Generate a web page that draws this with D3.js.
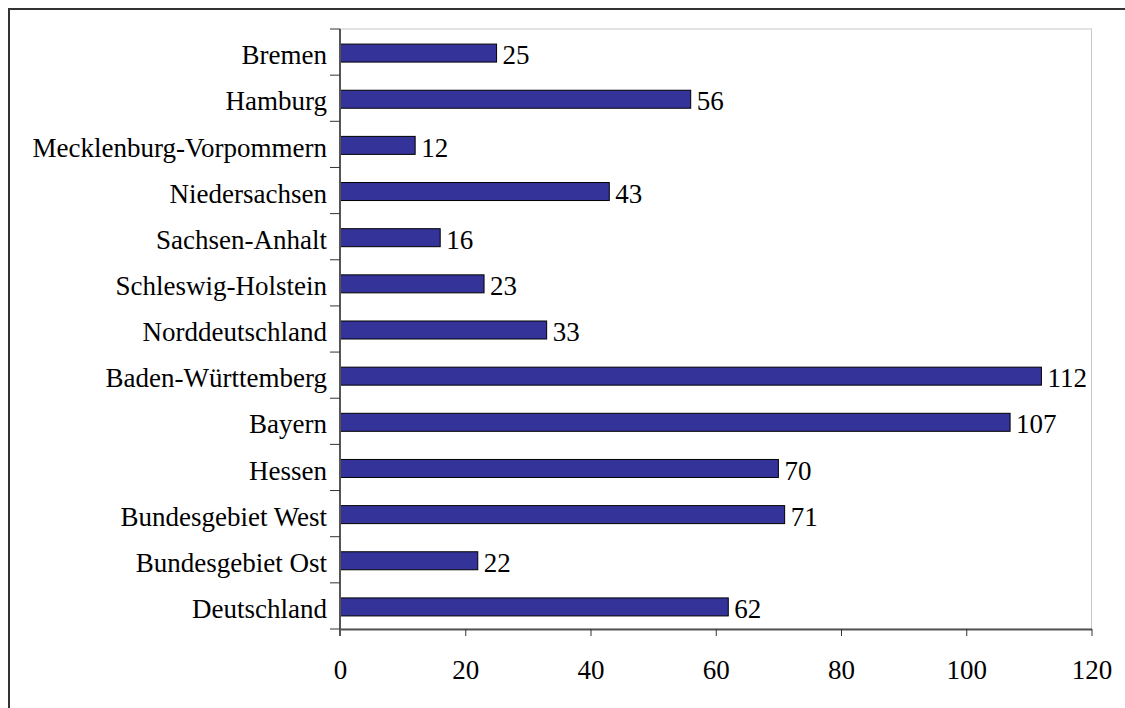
<!DOCTYPE html>
<html><head><meta charset="utf-8">
<script src="https://cdn.jsdelivr.net/npm/d3@7"></script>
<style>body{margin:0;background:#fff}svg{display:block}</style>
</head><body>
<svg id="chart" width="1125" height="708"></svg>
<script>
const categories = ["Bremen","Hamburg","Mecklenburg-Vorpommern","Niedersachsen","Sachsen-Anhalt","Schleswig-Holstein","Norddeutschland","Baden-Württemberg","Bayern","Hessen","Bundesgebiet West","Bundesgebiet Ost","Deutschland"];
const values = [25,56,12,43,16,23,33,112,107,70,71,22,62];
const xTicks = [0,20,40,60,80,100,120];

(function(){
const svg = d3.select("#chart");
const font = "'Liberation Serif','Times New Roman',serif";
const fs = 27;
svg.append("rect").attr("x",9).attr("y",9).attr("width",1130).attr("height",710)
  .attr("fill","none").attr("stroke","#333").attr("stroke-width",2);

const pl=340, pr=1091.5, pt=29, pb=629;
const x = d3.scaleLinear().domain([0,120]).range([pl,pr]);
const yb = d3.scaleBand().domain(categories).range([pt,pb]);

svg.append("rect").attr("x",pl).attr("y",pt).attr("width",pr-pl).attr("height",pb-pt)
  .attr("fill","none").attr("stroke","#c8c8c8").attr("stroke-width",1);

svg.selectAll("rect.bar").data(values).join("rect").attr("class","bar")
  .attr("x",x(0)).attr("y",(d,i)=>yb(categories[i])+yb.bandwidth()/2-8)
  .attr("width",d=>x(d)-x(0)).attr("height",18)
  .attr("fill","#333399").attr("stroke","#000").attr("stroke-width",1);

svg.selectAll("text.val").data(values).join("text").attr("class","val")
  .attr("x",d=>x(d)+6).attr("y",(d,i)=>yb(categories[i])+yb.bandwidth()/2)
  .attr("dy","0.45em").attr("font-family",font).attr("font-size",fs).attr("fill","#000")
  .text(d=>d);

const xAxis = d3.axisBottom(x).tickValues(xTicks).tickSize(7).tickPadding(24).tickSizeOuter(0);
const gx = svg.append("g").attr("transform",`translate(0,${pb})`).call(xAxis);
gx.select(".domain").attr("stroke","#555").attr("stroke-width",2);
gx.selectAll(".tick line").attr("stroke","#333");
gx.selectAll("text").attr("font-family",font).attr("font-size",fs).attr("fill","#000");

svg.append("line").attr("x1",pl).attr("x2",pl).attr("y1",pt).attr("y2",pb+7)
  .attr("stroke","#555").attr("stroke-width",2);
const bounds = categories.map(c=>yb(c)).concat([pb]);
svg.selectAll("line.yt").data(bounds).join("line").attr("class","yt")
  .attr("x1",pl-10).attr("x2",pl).attr("y1",d=>d).attr("y2",d=>d)
  .attr("stroke","#333").attr("stroke-width",1);
svg.selectAll("text.cat").data(categories).join("text").attr("class","cat")
  .attr("x",pl-13).attr("y",d=>yb(d)+yb.bandwidth()/2).attr("dy","0.45em")
  .attr("text-anchor","end").attr("font-family",font).attr("font-size",fs).attr("fill","#000")
  .text(d=>d);
})();
</script>
</body></html>
